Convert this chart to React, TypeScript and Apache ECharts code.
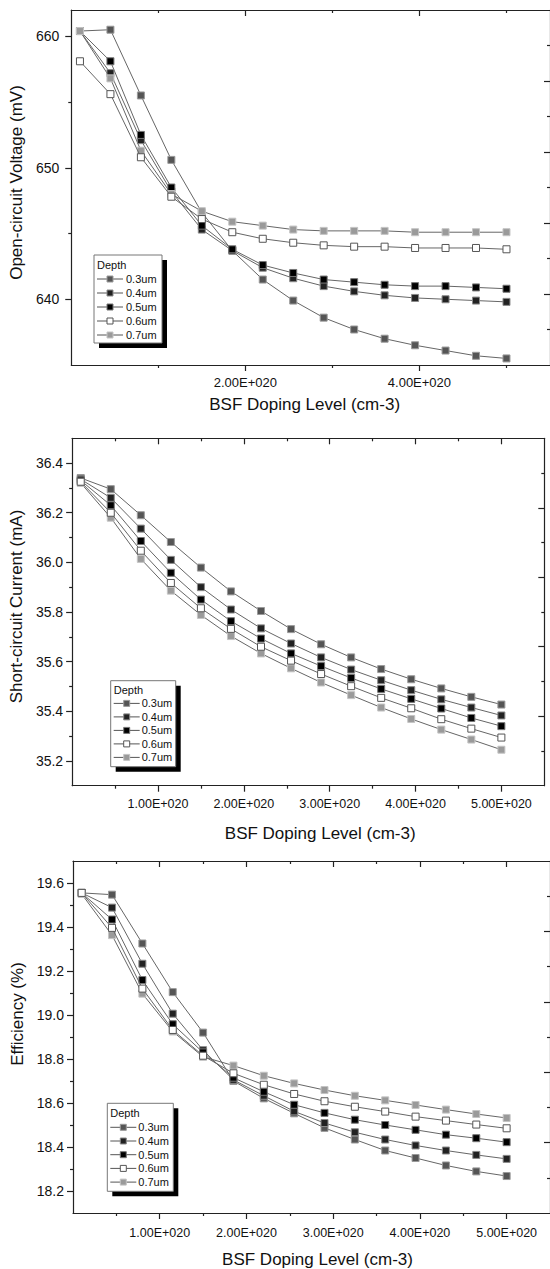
import React, { useEffect, useRef } from "react";
import * as echarts from "echarts";

// ---------- data ----------
const dopingLevels = [1.0e19, 4.5e19, 8.0e19, 1.15e20, 1.5e20, 1.85e20, 2.2e20, 2.55e20, 2.9e20, 3.25e20, 3.6e20, 3.95e20, 4.3e20, 4.65e20, 5.0e20];
const depthNames = ["0.3um", "0.4um", "0.5um", "0.6um", "0.7um"];

const vocValues = [
  [660.4, 660.5, 655.5, 650.6, 646.6, 643.7, 641.5, 639.9, 638.6, 637.7, 637.0, 636.5, 636.1, 635.7, 635.5],
  [660.4, 657.2, 652.1, 648.2, 645.3, 643.7, 642.4, 641.6, 641.0, 640.6, 640.3, 640.1, 640.0, 639.9, 639.8],
  [660.4, 658.1, 652.5, 648.5, 645.6, 643.8, 642.6, 642.0, 641.5, 641.3, 641.1, 641.0, 641.0, 640.9, 640.8],
  [658.1, 655.6, 650.8, 647.8, 646.1, 645.1, 644.6, 644.3, 644.1, 644.0, 644.0, 643.9, 643.9, 643.9, 643.8],
  [660.4, 656.8, 651.3, 648.0, 646.7, 645.9, 645.6, 645.3, 645.2, 645.2, 645.2, 645.1, 645.1, 645.1, 645.1],
];
const iscValues = [
  [36.34, 36.295, 36.19, 36.082, 35.979, 35.883, 35.804, 35.731, 35.67, 35.617, 35.57, 35.529, 35.492, 35.458, 35.427],
  [36.335, 36.26, 36.136, 36.01, 35.9, 35.81, 35.734, 35.673, 35.617, 35.568, 35.525, 35.485, 35.448, 35.415, 35.383],
  [36.33, 36.23, 36.086, 35.958, 35.85, 35.763, 35.693, 35.633, 35.582, 35.534, 35.49, 35.45, 35.411, 35.373, 35.34],
  [36.325, 36.2, 36.047, 35.917, 35.815, 35.732, 35.66, 35.604, 35.55, 35.501, 35.454, 35.412, 35.368, 35.33, 35.294],
  [36.32, 36.18, 36.014, 35.886, 35.788, 35.703, 35.633, 35.573, 35.516, 35.465, 35.415, 35.369, 35.326, 35.286, 35.245],
];
const effValues = [
  [19.555, 19.547, 19.325, 19.104, 18.92, 18.7, 18.621, 18.553, 18.487, 18.434, 18.384, 18.35, 18.316, 18.289, 18.268],
  [19.555, 19.488, 19.233, 19.006, 18.84, 18.705, 18.633, 18.562, 18.509, 18.467, 18.434, 18.407, 18.384, 18.364, 18.346],
  [19.555, 19.434, 19.159, 18.958, 18.83, 18.715, 18.651, 18.592, 18.555, 18.524, 18.5, 18.478, 18.456, 18.44, 18.422],
  [19.555, 19.396, 19.12, 18.932, 18.815, 18.735, 18.683, 18.641, 18.608, 18.583, 18.561, 18.538, 18.52, 18.502, 18.485],
  [19.55, 19.363, 19.097, 18.925, 18.81, 18.77, 18.724, 18.689, 18.659, 18.633, 18.612, 18.591, 18.57, 18.55, 18.532],
];

// ---------- ticks ----------
const vocMajorTicks = [640, 650, 660];
const vocMinorTicks = [645, 655];
const iscMajorTicks = [35.2, 35.4, 35.6, 35.8, 36.0, 36.2, 36.4];
const iscMinorTicks = [35.3, 35.5, 35.7, 35.9, 36.1, 36.3];
const effMajorTicks = [18.2, 18.4, 18.6, 18.8, 19.0, 19.2, 19.4, 19.6];
const effMinorTicks = [18.3, 18.5, 18.7, 18.9, 19.1, 19.3, 19.5];
const xMajorTicksSparse = [2e20, 4e20];
const xMinorTicksSparse = [1e20, 3e20, 5e20];
const xMajorTicks = [1e20, 2e20, 3e20, 4e20, 5e20];
const xMinorTicks = [0.5e20, 1.5e20, 2.5e20, 3.5e20, 4.5e20];
const mirrorMajorTicks = [2, 4, 6, 8];
const mirrorMinorTicks = [1, 3, 5, 7, 9];

// ---------- styles ----------
const FONT = "'Liberation Sans', Arial, sans-serif";
const markerFill = ["#555555", "#222222", "#000000", "#ffffff", "#9a9a9a"];
const markerBorder = ["#9a9a9a", "#8a8a8a", "#777777", "#555555", "#c4c4c4"];
const AXIS_COLOR = "#222";

function sciLabel(v: number) {
  const [m, e] = v.toExponential(2).split("e");
  const sign = e[0];
  return m + "E" + sign + e.slice(1).padStart(3, "0");
}
function shiftPad(d: number) {
  return d >= 0 ? [0, 0, 0, 2 * d] : [0, -2 * d, 0, 0];
}

type Panel = {
  values: number[][];
  grid: { left: number; top: number; width: number; height: number };
  yMin: number;
  yMax: number;
  yMajor: number[];
  yMinor: number[];
  yDecimals: number;
  xMajor: number[];
  xMinor: number[];
  yName: string;
  yNameGap: number;
  yNameShift: number;
  yLabelMargin: number;
  yLabelSize: number;
  xNameGap: number;
  xNameShift: number;
  xLabelSize: number;
  xLabelMargin: number;
  legend: { left: number; top: number; w: number; h: number; titleDy: number; row0: number; step: number; textDx: number };
};

const panels: Panel[] = [
  {
    values: vocValues,
    grid: { left: 70.3, top: 10, width: 483.2, height: 355 },
    yMin: 635, yMax: 662, yMajor: vocMajorTicks, yMinor: vocMinorTicks, yDecimals: 0,
    xMajor: xMajorTicksSparse, xMinor: xMinorTicksSparse,
    yName: "Open-circuit Voltage (mV)", yNameGap: 41, yNameShift: 5, yLabelMargin: 12, yLabelSize: 14,
    xNameGap: 31, xNameShift: -6, xLabelSize: 13, xLabelMargin: 11,
    legend: { left: 94, top: 255, w: 68, h: 88, titleDy: 9.5, row0: 24, step: 14, textDx: 32 },
  },
  {
    values: iscValues,
    grid: { left: 70.5, top: 438.3, width: 473.8, height: 347.4 },
    yMin: 35.1, yMax: 36.5, yMajor: iscMajorTicks, yMinor: iscMinorTicks, yDecimals: 1,
    xMajor: xMajorTicks, xMinor: xMinorTicks,
    yName: "Short-circuit Current (mA)", yNameGap: 43, yNameShift: 5.5, yLabelMargin: 9, yLabelSize: 14,
    xNameGap: 39, xNameShift: 12, xLabelSize: 12.5, xLabelMargin: 12,
    legend: { left: 110.7, top: 680.7, w: 65, h: 86, titleDy: 9.5, row0: 22.7, step: 13.5, textDx: 31 },
  },
  {
    values: effValues,
    grid: { left: 73, top: 861, width: 481.8, height: 353 },
    yMin: 18.1, yMax: 19.7, yMajor: effMajorTicks, yMinor: effMinorTicks, yDecimals: 1,
    xMajor: xMajorTicks, xMinor: xMinorTicks,
    yName: "Efficiency (%)", yNameGap: 45, yNameShift: 23, yLabelMargin: 9, yLabelSize: 14,
    xNameGap: 38, xNameShift: 6, xLabelSize: 12.5, xLabelMargin: 13,
    legend: { left: 107.3, top: 1103.3, w: 66, h: 88, titleDy: 10, row0: 24, step: 13.7, textDx: 31 },
  },
];

const X_MIN = 0;
const X_MAX = 5.5e20;

function buildOption() {
  const grid: any[] = [];
  const xAxis: any[] = [];
  const yAxis: any[] = [];
  const series: any[] = [];
  const graphic: any[] = [];

  const lineStyle = { color: AXIS_COLOR, width: 1.2 };

  panels.forEach((p, i) => {
    grid.push({ ...p.grid, containLabel: false });

    const baseX = {
      type: "value", gridIndex: i, min: X_MIN, max: X_MAX,
      splitLine: { show: false },
    };
    // bottom major with labels
    xAxis.push({
      ...baseX, position: "bottom",
      name: "BSF Doping Level (cm-3)", nameLocation: "middle", nameGap: p.xNameGap,
      nameTextStyle: { fontSize: 17, color: "#111", fontFamily: FONT, padding: shiftPad(p.xNameShift) },
      axisLine: { show: true, onZero: false, lineStyle },
      axisTick: { show: true, inside: false, length: 6, customValues: p.xMajor, lineStyle },
      axisLabel: {
        show: true, customValues: p.xMajor, formatter: (v: number) => sciLabel(v),
        fontSize: p.xLabelSize, color: "#111", fontFamily: FONT, margin: p.xLabelMargin,
      },
    });
    // bottom minor
    xAxis.push({
      ...baseX, position: "bottom",
      axisLine: { show: false, onZero: false },
      axisTick: { show: true, inside: false, length: 3, customValues: p.xMinor, lineStyle },
      axisLabel: { show: false },
    });
    // top mirror major
    xAxis.push({
      ...baseX, position: "top",
      axisLine: { show: true, onZero: false, lineStyle },
      axisTick: { show: true, inside: true, length: 6, customValues: p.xMajor, lineStyle },
      axisLabel: { show: false },
    });
    // top mirror minor
    xAxis.push({
      ...baseX, position: "top",
      axisLine: { show: false, onZero: false },
      axisTick: { show: true, inside: true, length: 3, customValues: p.xMinor, lineStyle },
      axisLabel: { show: false },
    });

    const baseY = {
      type: "value", gridIndex: i, min: p.yMin, max: p.yMax,
      splitLine: { show: false },
    };
    yAxis.push({
      ...baseY, position: "left",
      name: p.yName, nameLocation: "middle", nameGap: p.yNameGap,
      nameTextStyle: { fontSize: 17, color: "#111", fontFamily: FONT, padding: shiftPad(p.yNameShift) },
      axisLine: { show: true, onZero: false, lineStyle },
      axisTick: { show: true, inside: false, length: 6, customValues: p.yMajor, lineStyle },
      axisLabel: {
        show: true, customValues: p.yMajor, formatter: (v: number) => v.toFixed(p.yDecimals),
        fontSize: p.yLabelSize, color: "#111", fontFamily: FONT, margin: p.yLabelMargin,
      },
    });
    yAxis.push({
      ...baseY, position: "left",
      axisLine: { show: false, onZero: false },
      axisTick: { show: true, inside: false, length: 3, customValues: p.yMinor, lineStyle },
      axisLabel: { show: false },
    });
    const baseMirrorY = {
      type: "value", gridIndex: i, min: 0, max: 10, position: "right",
      splitLine: { show: false }, axisLabel: { show: false },
    };
    yAxis.push({
      ...baseMirrorY,
      axisLine: { show: true, onZero: false, lineStyle },
      axisTick: { show: true, inside: true, length: 6, customValues: mirrorMajorTicks, lineStyle },
    });
    yAxis.push({
      ...baseMirrorY,
      axisLine: { show: false, onZero: false },
      axisTick: { show: true, inside: true, length: 3, customValues: mirrorMinorTicks, lineStyle },
    });

    p.values.forEach((vals, k) => {
      series.push({
        type: "line",
        name: depthNames[k],
        xAxisIndex: i * 4,
        yAxisIndex: i * 4,
        data: dopingLevels.map((x, j) => [x, vals[j]]),
        symbol: "rect",
        symbolSize: 7,
        showAllSymbol: true,
        z: k === 3 ? 4 : 3,
        lineStyle: { color: "#666", width: 1 },
        itemStyle: { color: markerFill[k], borderColor: markerBorder[k], borderWidth: 1 },
        emphasis: { disabled: true },
        silent: true,
      });
    });

    // legend box
    const L = p.legend;
    const children: any[] = [
      { type: "rect", shape: { x: L.left + 5, y: L.top + 5, width: L.w, height: L.h }, style: { fill: "#000" } },
      { type: "rect", shape: { x: L.left, y: L.top, width: L.w, height: L.h }, style: { fill: "#fff", stroke: "#777", lineWidth: 1 } },
      {
        type: "text", x: L.left + 3, y: L.top + L.titleDy,
        style: { text: "Depth", fontSize: 11, fill: "#111", fontFamily: FONT, verticalAlign: "middle", align: "left" },
      },
    ];
    depthNames.forEach((name, k) => {
      const y = L.top + L.row0 + L.step * k;
      children.push({ type: "line", shape: { x1: L.left + 3, y1: y, x2: L.left + 29, y2: y }, style: { stroke: "#555", lineWidth: 1 } });
      children.push({
        type: "rect", shape: { x: L.left + 13, y: y - 3, width: 6, height: 6 },
        style: { fill: markerFill[k], stroke: markerBorder[k], lineWidth: 1 },
      });
      children.push({
        type: "text", x: L.left + L.textDx, y,
        style: { text: name, fontSize: 11, fill: "#111", fontFamily: FONT, verticalAlign: "middle", align: "left" },
      });
    });
    graphic.push({ type: "group", z: 10, children });
  });

  return {
    animation: false,
    backgroundColor: "#ffffff",
    textStyle: { fontFamily: FONT },
    grid, xAxis, yAxis, series, graphic,
  };
}

export default function App() {
  const ref = useRef<HTMLDivElement>(null);
  useEffect(() => {
    if (!ref.current) return;
    const chart = echarts.init(ref.current, undefined, { renderer: "svg" });
    chart.setOption(buildOption() as any);
    return () => chart.dispose();
  }, []);
  return (
    <div
      ref={ref}
      style={{ position: "absolute", left: 0, top: 0, width: 550, height: 1269, background: "#fff" }}
    />
  );
}
